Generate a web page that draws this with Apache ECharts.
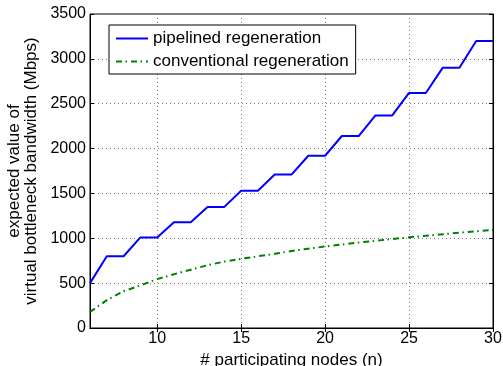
<!DOCTYPE html>
<html>
<head>
<meta charset="utf-8">
<script src="https://cdn.jsdelivr.net/npm/echarts@6/dist/echarts.min.js"></script>
<style>
html,body{margin:0;padding:0;background:#fff;}
#tu_1{width:503px;height:366px;}
</style>
</head>
<body>
<div id="tu_1"></div>
<script>
// nodes n
var nodes = [6,7,8,9,10,11,12,13,14,15,16,17,18,19,20,21,22,23,24,25,26,27,28,29,30];
// pipelined regeneration (Mbps)
var pipelined = [500,800,800,1010,1010,1180,1180,1350,1350,1530,1530,1710,1710,1920,1920,2140,2140,2370,2370,2620,2620,2900,2900,3200,3200];
// conventional regeneration (Mbps)
var conventional = [178,310,410,475,545,600,650,700,740,771,800,827,858,884,908,930,952,972,992,1011,1028,1045,1062,1078,1093];
var xTicks = [10,15,20,25,30];
var yTicks = [0,500,1000,1500,2000,2500,3000,3500];

var fnt = 'Liberation Sans, Arial, Helvetica, sans-serif';
var myChart_1 = echarts.init(document.getElementById('tu_1'));

function pairs(ys){
	var out = [];
	for(var i=0;i<nodes.length;i++){
		out.push([nodes[i], ys[i]]);
	}
	return out;
}

var option = {
	animation:false,
	backgroundColor:'#fff',
	textStyle:{fontFamily:fnt},
	grid:{left:90,right:10,top:14,bottom:38,show:true,borderColor:'#000',borderWidth:1,backgroundColor:'transparent',containLabel:false,outerBoundsMode:'none'},
	legend:{
		orient:'vertical',
		left:109,
		top:25,
		padding:[5,7,4,6],
		itemWidth:32,
		itemHeight:17,
		itemGap:6,
		borderColor:'#000',
		borderWidth:1,
		backgroundColor:'#fff',
		itemStyle:{opacity:0},
		textStyle:{fontSize:17,color:'#000',fontFamily:fnt},
		data:['pipelined regeneration','conventional regeneration']
	},
	xAxis:[{
		type:'value',
		min:6,
		max:30,
		name:'# participating nodes (n)',
		nameLocation:'middle',
		nameGap:24,
		nameTextStyle:{fontSize:17,color:'#000',fontFamily:fnt},
		axisLine:{lineStyle:{color:'#000',width:1}},
		axisTick:{inside:true,length:4,customValues:xTicks,lineStyle:{color:'#000'}},
		axisLabel:{customValues:xTicks,fontSize:16,color:'#000',margin:3,fontFamily:fnt},
		splitLine:{show:true,lineStyle:{color:'#777',type:[1,3],width:1}}
	},{
		type:'value',
		position:'top',
		min:6,
		max:30,
		axisLine:{lineStyle:{color:'#000'}},
		axisTick:{inside:true,length:4,customValues:xTicks,lineStyle:{color:'#000'}},
		axisLabel:{show:false},
		splitLine:{show:false}
	}],
	yAxis:[{
		type:'value',
		min:0,
		max:3500,
		interval:500,
		name:'expected value of\nvirtual bottleneck bandwidth (Mbps)',
		nameLocation:'middle',
		nameGap:48,
		nameTextStyle:{fontSize:17,color:'#000',lineHeight:17,fontFamily:fnt},
		axisLine:{lineStyle:{color:'#000'}},
		axisTick:{inside:true,length:4,lineStyle:{color:'#000'}},
		axisLabel:{fontSize:16,color:'#000',margin:4,fontFamily:fnt,formatter:function(v){return String(v);}},
		splitLine:{show:true,lineStyle:{color:'#777',type:[1,3],width:1}}
	},{
		type:'value',
		position:'right',
		min:0,
		max:3500,
		interval:500,
		axisLine:{show:true,lineStyle:{color:'#000'}},
		axisTick:{show:true,inside:true,length:4,lineStyle:{color:'#000'}},
		axisLabel:{show:false},
		splitLine:{show:false}
	}],
	series:[{
		name:'pipelined regeneration',
		type:'line',
		symbol:'none',
		color:'#0000ff',
		lineStyle:{color:'#0000ff',width:2},
		data:pairs(pipelined)
	},{
		name:'conventional regeneration',
		type:'line',
		symbol:'none',
		color:'#008000',
		lineStyle:{color:'#008000',width:2,type:[6,3.5,1.5,4]},
		data:pairs(conventional)
	}]
};
myChart_1.setOption(option);
</script>
</body>
</html>
